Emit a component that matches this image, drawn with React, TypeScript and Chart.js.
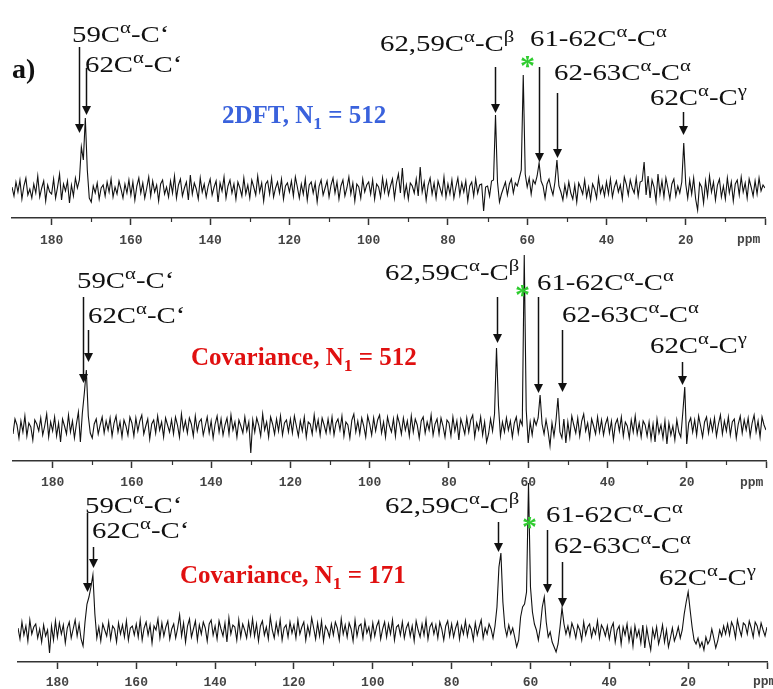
import React, { useEffect, useRef } from "react";
import { Chart, registerables } from "chart.js";

Chart.register(...registerables);

// Spectra sampled every 0.5 ppm from 190 ppm down to 0 ppm (intensity in arbitrary units)
const PPM_START = 190;
const PPM_STEP = 0.5;
const minorTicks = [10, 30, 50, 70, 90, 110, 130, 150, 170];

const topSpectrum = [
  3, -6, 8, -2, 10, -9, 4, 12, -5, 1, -8, 6, -3, 14, -7, 2, 9, -11, 5, -2,
  -4, 11, -8, 3, 16, -10, 6, -1, 9, -13, 5, -6, 12, 2, 10, 43, 30, 72, 20, -8,
  -12, 4, -3, 7, -9, 2, 5, -6, 8, -2, 11, -7, 3, -4, 9, 1, -8, 6, -3, 10,
  -5, 8, -10, 4, 12, -3, 7, -8, 2, 13, -6, 9, -2, 5, -11, 6, 10, -4, 3, -7,
  9, -3, 14, -8, 5, 11, -6, 2, 8, -10, 15, -4, 7, 1, -9, 12, -2, 6, -7, 4,
  11, -5, 3, 9, -12, 7, -1, 13, -8, 4, 10, -3, 6, -9, 8, 2, -6, 12, -4, 5,
  -8, 10, 3, -5, 14, -2, 7, -11, 6, 9, -4, 12, -7, 2, 8, -3, 11, -9, 4, 7,
  -2, 9, -6, 13, 3, -8, 6, -4, 11, -10, 5, 8, -3, 7, -12, 4, 10, -5, 2, 9,
  -7, 5, 12, -3, 8, -9, 4, 10, -6, 2, 13, -4, 7, -11, 6, 3, -8, 11, -2, 5,
  8, -4, 10, -9, 6, 3, -7, 12, -2, 9, -5, 4, 11, -8, 7, 16, -3, 22, -6, 5,
  -9, 7, 4, -3, 11, -6, 23, -2, 8, -10, 5, 12, -4, 7, -8, 9, 2, -5, 13, -7,
  6, -4, 10, -8, 3, 12, -5, 7, -2, 9, -11, 4, 8, -6, 11, -3, 5, 6, -21, 3,
  4, -6, 9, 10, 75, 8, -12, -4, 2, 8, -5, 6, 11, -3, 7, 4, 12, 20, 115, 16,
  3, 12, -4, 10, 6, 14, 27, 9, 4, -8, 6, 11, 2, -5, 8, 30, 4, -2, -10, 5,
  -6, 8, -3, -9, 5, -12, 7, 2, -4, 10, -7, 3, -10, 6, 1, -8, 12, -3, 4, -6,
  8, -4, 11, -7, 3, 9, -2, 5, -9, 13, 6, -5, 10, 2, -3, 12, -6, 8, 9, 28,
  -5, 14, -8, 10, 3, -11, 16, -4, 9, -7, 12, 2, -9, 6, 11, -6, 4, -3, 8, 47,
  6, -8, 10, -4, 12, -9, -20, 7, 3, -13, 9, -6, 14, -2, 8, -10, 5, 11, -7, 4,
  -9, 12, -3, 8, -11, 6, 10, -5, 13, -2, 7, -8, 11, 3, -6, 9, -4, 12, -1, 5,
  2,
];

const midSpectrum = [
  -6, 9, 3, -10, 7, -4, 12, -8, 5, 1, -12, 8, 4, -3, 10, -7, 2, 14, -9, 6,
  -3, 11, -8, 5, -14, 9, 2, -6, 13, -4, 7, -10, 4, 16, -14, 15, 35, 58, 12, -5,
  -10, 4, 9, -6, 3, 11, -5, 7, -2, 10, -8, 5, 12, -4, 6, -9, 8, 2, -7, 11,
  5, -8, 10, -3, 7, 13, -6, 2, 9, -11, 4, 8, -5, 12, -2, 6, -9, 10, 3, -4,
  8, -6, 11, 3, -9, 14, -2, 7, -5, 10, 4, -8, 12, -3, 6, 9, -7, 2, 11, -5,
  7, -10, 4, 12, -4, 9, -7, 3, 10, -6, 13, -2, 6, -9, 8, 2, -5, 11, -3, 6,
  -25, 8, -4, 10, 3, -8, 14, -2, 6, -9, 11, 4, -6, 9, -3, 12, -7, 5, 8, -4,
  9, -5, 12, 2, -8, 7, -3, 11, -9, 6, 4, -6, 13, -2, 8, -7, 10, 3, -5, 9,
  -4, 11, -7, 5, 9, -2, 12, -8, 6, 3, -10, 8, 14, -4, 7, -6, 10, 2, -9, 12,
  4, -7, 10, -3, 8, 13, -5, 6, -9, 11, 2, -4, 9, -8, 12, 5, -6, 10, -2, 7,
  -8, 12, -4, 9, 3, -10, 7, 11, -5, 6, -2, 13, -7, 4, 9, -6, 10, 2, -9, 8,
  5, -8, 11, -3, 7, -12, 9, 2, -6, 10, -4, 8, 13, -9, 5, -2, 11, -7, 6, -14,
  -6, 9, -3, 14, 80, 22, -8, 6, -4, 10, -2, 7, -9, 5, 11, -5, 8, 3, 173, 18,
  -15, 6, -7, 9, 3, 10, 33, 4, -6, 8, -3, -18, 5, -8, 7, 30, -4, -10, 9, -15,
  6, -9, 12, 3, -5, 10, -8, 7, 14, -3, 5, -10, 9, 2, -6, 11, -4, 8, -7, 4,
  10, -5, 7, -12, 4, 9, -3, 11, -8, 6, 2, -10, 8, -4, 12, -6, 5, -9, 7, 3,
  -8, 6, -11, 4, -14, 9, -5, 3, -10, 7, -16, 5, -7, 2, -12, 8, -4, -9, 15, 41,
  -16, 5, 10, -4, 8, -7, 12, 2, -9, 6, 11, -5, 8, -3, 10, -8, 4, 13, -6, 7,
  -3, 11, -7, 6, 9, -10, 4, 12, -5, 8, -2, 10, -8, 5, 13, -4, 7, -9, 11, 3,
  -2,
];

const botSpectrum = [
  4, -7, 10, -3, 6, -9, 12, -2, 5, 8, -6, 3, -10, 7, -4, 2, -21, 6, -8, 11,
  -5, 9, -2, 7, -11, 4, 10, -6, 3, 12, -4, 8, -7, -14, 10, 28, 35, 45, 57, 18,
  -6, 5, -9, 8, 2, -4, 10, -7, 6, 3, -10, 9, -2, 7, -5, 11, -8, 4, 6, -3,
  8, -5, 12, -8, 4, 10, -3, 7, -11, 6, 2, 13, -6, 9, -4, 5, 11, -7, 3, 8,
  -6, 4, 17, -4, 9, -10, 6, 13, -5, 3, 11, -8, 7, -2, 10, 4, -9, 8, 12, -3,
  6, -7, 11, 3, -4, 9, -10, 14, -2, 7, 5, -8, 12, -5, 8, 2, -6, 10, -3, 13,
  -4, 8, -9, 6, 11, -3, 5, -7, 15, 2, -6, 9, -2, 12, -8, 4, 7, -5, 10, -1,
  7, -6, 12, -2, 5, 10, -8, 6, -3, 14, 4, -7, 9, -4, 11, -9, 6, 2, -5, 8,
  -3, 10, 4, -8, 13, -2, 7, -5, 9, 3, -9, 12, -4, 6, 8, -6, 11, -1, 5, -7,
  9, -4, 6, 11, -7, 3, 10, -5, 8, -2, 12, -8, 5, 7, -3, 10, -6, 4, 9, -4,
  6, -9, 11, 2, -5, 8, -3, 12, -7, 5, 9, -2, 7, -6, 10, 3, -8, 6, 11, -4,
  8, -5, 4, 10, -7, 6, -2, 11, -4, 7, 3, -8, 9, -3, 5, 12, -6, 4, -2, 8,
  3, -6, 6, 25, 65, 79, 30, 5, -4, 7, -2, 4, -5, -15, -8, 15, 25, 28, 40, 149,
  45, 20, 8, 2, -8, 5, 25, 35, 10, -5, 0, -10, -15, -20, -12, 5, 24, 8, -2, 6,
  -4, 9, 3, -6, 7, 2, -8, 10, -3, 5, 8, -5, 4, -2, 11, -6, 7, 3, -4, 6,
  -7, 4, 9, -10, 2, 6, -12, 5, -3, 8, -9, 3, -14, 6, -5, 2, -11, 7, -16, 4,
  -8, -18, 3, -6, 5, -12, -4, 7, -10, 2, -15, -6, 4, -9, -3, 5, -6, 2, 18, 30,
  40, 22, 5, -8, -12, -6, -15, -10, -18, -5, -12, -8, 3, -6, -16, -9, 2, -4, 6, -2,
  8, -3, 10, 5, -6, 12, 3, -4, 9, 7, -2, 11, 4, -5, 10, 6, -3, 9, 2, -4,
  5,
];

// Annotation arrows: [ppm, start intensity, tip intensity]
const topArrows = [
  [173.2, 143, 57],
  [171.4, 122, 75],
  [68.2, 123, 77],
  [57.1, 123, 28],
  [52.4, 97, 32],
  [20.6, 78, 55],
];
const midArrows = [
  [172.25, 131, 45],
  [171, 98, 66],
  [67.75, 131, 85],
  [57.5, 131, 35],
  [51.5, 98, 36],
  [21.25, 66, 43],
];
const botArrows = [
  [172.5, 119, 40],
  [171, 85, 64],
  [68.25, 110, 80],
  [55.9, 102, 39],
  [51.9, 70, 25],
];

const SERIF = "'Liberation Serif', 'Times New Roman', serif";
const MONO = "'Liberation Mono', 'Courier New', monospace";

function makeAnnotPlugin(arrows: number[][]) {
  return {
    id: "annot",
    afterDatasetsDraw(chart: any) {
      const { ctx, chartArea } = chart;
      const xs = chart.scales.x;
      const ys = chart.scales.y;
      ctx.save();
      ctx.strokeStyle = "#111";
      ctx.fillStyle = "#111";
      ctx.lineWidth = 1.5;
      arrows.forEach(([ppm, from, tip]) => {
        const px = Math.round(xs.getPixelForValue(ppm)) + 0.5;
        const y0 = ys.getPixelForValue(from);
        const y1 = ys.getPixelForValue(tip);
        ctx.beginPath();
        ctx.moveTo(px, y0);
        ctx.lineTo(px, y1 - 7);
        ctx.stroke();
        ctx.beginPath();
        ctx.moveTo(px - 4.5, y1 - 9);
        ctx.lineTo(px + 4.5, y1 - 9);
        ctx.lineTo(px, y1);
        ctx.closePath();
        ctx.fill();
      });
      ctx.strokeStyle = "#333";
      ctx.lineWidth = 1.2;
      minorTicks.forEach((v) => {
        const px = Math.round(xs.getPixelForValue(v)) + 0.5;
        ctx.beginPath();
        ctx.moveTo(px, chartArea.bottom);
        ctx.lineTo(px, chartArea.bottom + 4);
        ctx.stroke();
      });
      ctx.restore();
    },
  };
}

type SpecProps = {
  top: number;
  height: number;
  padLeft: number;
  padRight: number;
  yMin: number;
  yMax: number;
  values: number[];
  arrows: number[][];
  labelPad: number;
};

function Spectrum(p: SpecProps) {
  const ref = useRef<HTMLCanvasElement>(null);
  useEffect(() => {
    const data = p.values.map((v, i) => ({ x: PPM_START - i * PPM_STEP, y: v }));
    const chart = new Chart(ref.current as HTMLCanvasElement, {
      type: "line",
      data: {
        datasets: [
          {
            data,
            borderColor: "#111",
            borderWidth: 1.1,
            pointRadius: 0,
            tension: 0,
            fill: false,
          },
        ],
      },
      options: {
        animation: false,
        responsive: false,
        events: [],
        layout: { padding: { left: p.padLeft, right: p.padRight, top: 0, bottom: 0 } },
        plugins: { legend: { display: false }, tooltip: { enabled: false } },
        scales: {
          x: {
            type: "linear",
            reverse: true,
            min: 0,
            max: 190,
            afterFit: (s: any) => {
              s.height = 32;
            },
            ticks: {
              stepSize: 20,
              autoSkip: false,
              maxRotation: 0,
              padding: p.labelPad,
              color: "#444",
              font: { family: MONO, size: 13, weight: "bold" },
              callback: (v: any) => {
                const n = Number(v);
                if (n === 0) return "";
                if (n % 20 === 0 && n < 190) return String(n);
                return null;
              },
            },
            grid: {
              drawOnChartArea: false,
              tickLength: 7,
              tickColor: "#333",
              tickWidth: 1.5,
            },
            border: { color: "#333", width: 1.5 },
          },
          y: { display: false, min: p.yMin, max: p.yMax },
        },
      } as any,
      plugins: [makeAnnotPlugin(p.arrows)],
    });
    return () => chart.destroy();
  }, []);
  return (
    <canvas
      ref={ref}
      width={773}
      height={p.height}
      style={{ position: "absolute", left: 0, top: p.top, width: 773, height: p.height }}
    />
  );
}

const Sup = ({ children }: any) => (
  <span style={{ fontSize: "0.72em", position: "relative", top: "-0.5em" }}>{children}</span>
);
const Sub = ({ children }: any) => (
  <span style={{ fontSize: "0.7em", position: "relative", top: "0.35em" }}>{children}</span>
);

function Txt({ x, y, size, color = "#111", bold = false, family = SERIF, stretch = 1, children }: any) {
  return (
    <div
      style={{
        position: "absolute",
        left: x,
        top: y - 0.8375 * size,
        fontSize: size,
        lineHeight: 1,
        color,
        fontWeight: bold ? "bold" : "normal",
        fontFamily: family,
        whiteSpace: "nowrap",
        transform: stretch !== 1 ? `scaleX(${stretch})` : undefined,
        transformOrigin: "0 0",
      }}
    >
      {children}
    </div>
  );
}

const Lab = ({ x, y, children }: any) => (
  <Txt x={x} y={y} size={24} stretch={1.2}>{children}</Txt>
);

const L59 = () => (<>59C<Sup>α</Sup>-C‘</>);
const L62 = () => (<>62C<Sup>α</Sup>-C‘</>);
const LCb = () => (<>62,59C<Sup>α</Sup>-C<Sup>β</Sup></>);
const L6162 = () => (<>61-62C<Sup>α</Sup>-C<Sup>α</Sup></>);
const L6263 = () => (<>62-63C<Sup>α</Sup>-C<Sup>α</Sup></>);
const LCg = () => (<>62C<Sup>α</Sup>-C<Sup>γ</Sup></>);

const GREEN = "#2fcc2f";
const BLUE = "#3a62dc";
const RED = "#e01010";

export default function App() {
  return (
    <div style={{ position: "absolute", left: 0, top: 0, width: 773, height: 689, overflow: "hidden", background: "#fff" }}>
      <Spectrum top={0} height={250} padLeft={12} padRight={3} yMin={-28} yMax={190} values={topSpectrum} arrows={topArrows} labelPad={8} />
      <Spectrum top={245} height={248} padLeft={13} padRight={0} yMin={-33} yMax={183} values={midSpectrum} arrows={midArrows} labelPad={7} />
      <Spectrum top={470} height={224} padLeft={18} padRight={0} yMin={-30} yMax={162} values={botSpectrum} arrows={botArrows} labelPad={6} />

      {/* top panel */}
      <Txt x={12} y={78} size={28} bold>a)</Txt>
      <Lab x={72} y={42}><L59 /></Lab>
      <Lab x={85} y={72}><L62 /></Lab>
      <Txt x={222} y={123} size={25} bold color={BLUE}>2DFT, N<Sub>1</Sub> = 512</Txt>
      <Lab x={380} y={51}><LCb /></Lab>
      <Lab x={530} y={46}><L6162 /></Lab>
      <Lab x={554} y={80}><L6263 /></Lab>
      <Lab x={650} y={105}><LCg /></Lab>
      <Txt x={520} y={75} size={30} color={GREEN} bold>*</Txt>
      <Txt x={737} y={244} size={13} family={MONO} color="#444" bold>ppm</Txt>

      {/* middle panel */}
      <Lab x={77} y={288}><L59 /></Lab>
      <Lab x={88} y={323}><L62 /></Lab>
      <Txt x={191} y={365} size={25} bold color={RED}>Covariance, N<Sub>1</Sub> = 512</Txt>
      <Lab x={385} y={280}><LCb /></Lab>
      <Lab x={537} y={290}><L6162 /></Lab>
      <Lab x={562} y={322}><L6263 /></Lab>
      <Lab x={650} y={353}><LCg /></Lab>
      <Txt x={515} y={304} size={30} color={GREEN} bold>*</Txt>
      <Txt x={740} y={487} size={13} family={MONO} color="#444" bold>ppm</Txt>

      {/* bottom panel */}
      <Lab x={85} y={513}><L59 /></Lab>
      <Lab x={92} y={538}><L62 /></Lab>
      <Txt x={180} y={583} size={25} bold color={RED}>Covariance, N<Sub>1</Sub> = 171</Txt>
      <Lab x={385} y={513}><LCb /></Lab>
      <Lab x={546} y={522}><L6162 /></Lab>
      <Lab x={554} y={553}><L6263 /></Lab>
      <Lab x={659} y={585}><LCg /></Lab>
      <Txt x={522} y={536} size={30} color={GREEN} bold>*</Txt>
      <Txt x={753} y={686} size={13} family={MONO} color="#444" bold>ppm</Txt>
    </div>
  );
}
